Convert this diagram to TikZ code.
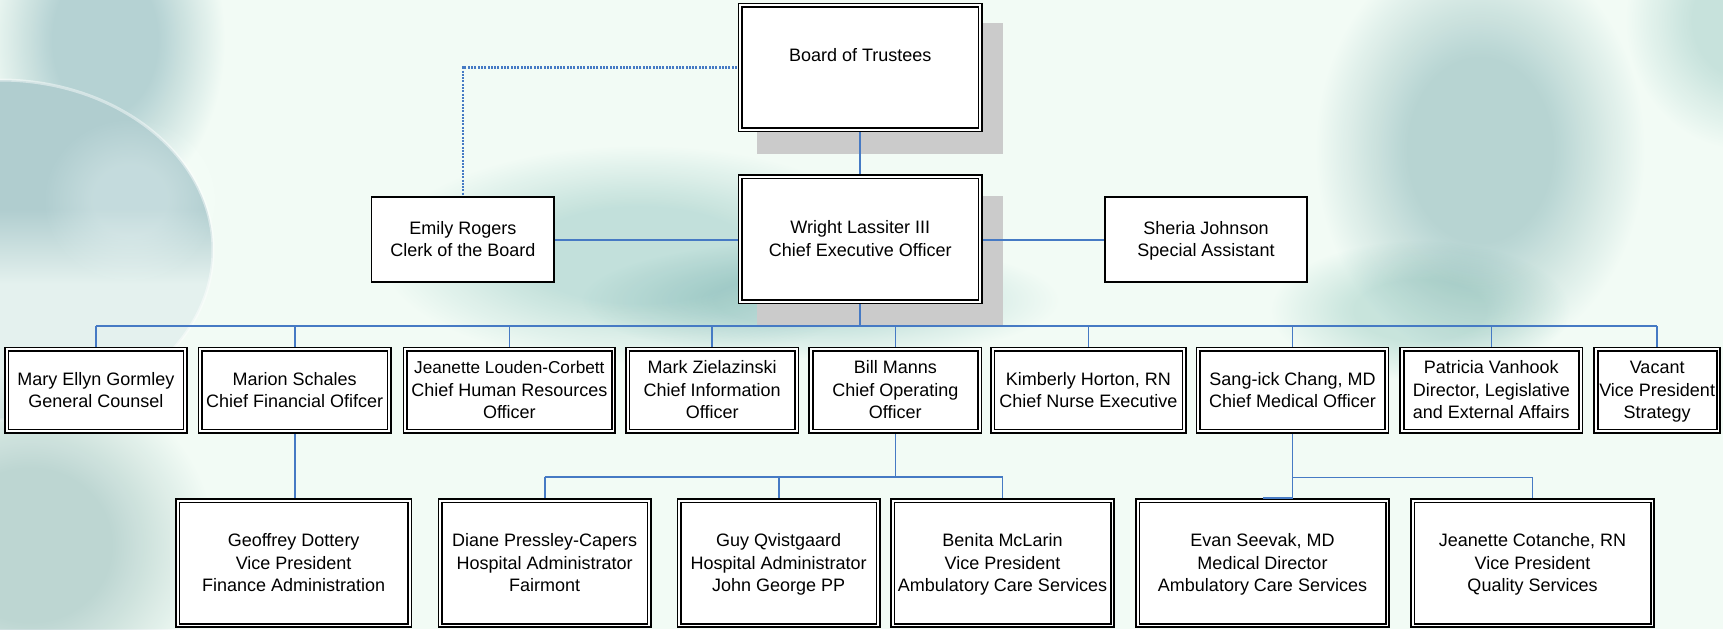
\documentclass[tikz,border=0pt]{standalone}
\usepackage{fontspec}
\setmainfont{Liberation Sans}
\pgfdeclarelayer{back}
\pgfdeclarelayer{links}
\pgfsetlayers{back,links,main}
\definecolor{bgc}{HTML}{F2FBF5}
\definecolor{connc}{RGB}{70,122,196}
\definecolor{shadowc}{HTML}{CBCBCB}
\definecolor{sphT}{HTML}{B0CDCF}
\definecolor{sphB}{HTML}{E4F1EE}
\colorlet{bin}{white}
\colorlet{bout}{white}
\pgfdeclareradialshading[bin,bout]{blob}{\pgfpoint{0bp}{0bp}}{color(0bp)=(bin); color(11bp)=(bin); color(25bp)=(bout); color(50bp)=(bout)}
\pgfdeclareverticalshading{sph}{100bp}{color(0bp)=(sphB); color(45bp)=(sphB); color(56bp)=(sphT); color(100bp)=(sphT)}
\newcommand\topS{\rule{0pt}{16pt}}
\newcommand\botS{\rule[-4pt]{0pt}{4pt}}
\begin{document}
\begin{tikzpicture}[x=1pt,y=-1pt,
  every node/.style={font=\fontsize{18pt}{22.5pt}\selectfont, text=black},
  dbox/.style={draw=black, double=white, double distance=1.8pt, line width=1.7pt, fill=white, inner sep=0pt, outer sep=0pt, align=center},
  sbox/.style={draw=black, line width=1.7pt, fill=white, inner sep=0pt, outer sep=0pt, align=center},
  trow/.style={dbox, minimum height=82.1pt},
  brow/.style={dbox, minimum height=124.8pt},
  link/.style={draw=connc, line width=1.6pt},
  dotlink/.style={draw=connc, line width=2.6pt, dash pattern=on 2pt off 1.3pt},
]
\useasboundingbox (0,0) rectangle (1723,629);

% ---------- boxes ----------
\node[dbox, minimum width=239.8pt, minimum height=124.4pt] (board) at (860.2,67.5) {};
\node[inner sep=0pt] (boardtxt) at (860.2,55) {Board of Trustees};
\node[dbox, minimum width=239.8pt, minimum height=125.1pt] (ceo) at (860.2,239.2) {\topS Wright Lassiter III\\Chief Executive Officer\botS};
\node[sbox, minimum width=182.6pt, minimum height=85pt] (emily) at (462.9,239.7) {\topS Emily Rogers\\Clerk of the Board\botS};
\node[sbox, minimum width=202.3pt, minimum height=85pt] (sheria) at (1206,239.7) {\topS Sheria Johnson\\Special Assistant\botS};

\node[trow, minimum width=178.5pt] (t1) at (95.85,390.3) {\topS Mary Ellyn Gormley\\General Counsel\botS};
\node[trow, minimum width=188.8pt] (t2) at (294.7,390.3) {\topS Marion Schales\\Chief Financial Ofifcer\botS};
\node[trow, minimum width=208.1pt] (t3) at (509.35,390.3) {\topS{\fontsize{17.2pt}{22.5pt}\selectfont Jeanette Louden-Corbett}\\Chief Human Resources\\Officer\botS};
\node[trow, minimum width=169.1pt] (t4) at (712.15,390.3) {\topS Mark Zielazinski\\Chief Information\\Officer\botS};
\node[trow, minimum width=168.8pt] (t5) at (895.3,390.3) {\topS Bill Manns\\Chief Operating\\Officer\botS};
\node[trow, minimum width=191.5pt] (t6) at (1088.35,390.3) {\topS Kimberly Horton, RN\\Chief Nurse Executive\botS};
\node[trow, minimum width=188.4pt] (t7) at (1292.5,390.3) {\topS Sang-ick Chang, MD\\Chief Medical Officer\botS};
\node[trow, minimum width=178.8pt] (t8) at (1491.3,390.3) {\topS Patricia Vanhook\\Director, Legislative\\and External Affairs\botS};
\node[trow, minimum width=122.5pt] (t9) at (1657.15,390.3) {\topS Vacant\\Vice President\\Strategy\botS};

\node[brow, minimum width=232.1pt] (b1) at (293.65,563) {\topS Geoffrey Dottery\\Vice President\\Finance Administration\botS};
\node[brow, minimum width=208.8pt] (b2) at (544.7,563) {\topS Diane Pressley-Capers\\Hospital Administrator\\Fairmont\botS};
\node[brow, minimum width=198.8pt] (b3) at (778.7,563) {\topS Guy Qvistgaard\\Hospital Administrator\\John George PP\botS};
\node[brow, minimum width=219.8pt] (b4) at (1002.5,563) {\topS Benita McLarin\\Vice President\\Ambulatory Care Services\botS};
\node[brow, minimum width=249.8pt] (b5) at (1262.5,563) {\topS Evan Seevak, MD\\Medical Director\\Ambulatory Care Services\botS};
\node[brow, minimum width=239.8pt] (b6) at (1532.5,563) {\topS Jeanette Cotanche, RN\\Vice President\\Quality Services\botS};

% ---------- connectors ----------
\coordinate (bus) at (0,326);
\coordinate (busB) at (0,476.7);
\coordinate (busC) at (0,477.3);
\coordinate (evtop) at ([yshift=2.6pt]b5.north);
\begin{pgfonlayer}{links}
\draw[link] (board.south) -- (ceo.north);
\draw[dotlink] (board.west) -| (emily.north);
\draw[link] (emily.east) -- (emily.east -| ceo.west);
\draw[link] (ceo.east |- sheria.west) -- (sheria.west);
\draw[link] (ceo.south) -- (ceo.south |- bus);
\draw[link] (t1.north |- bus) -- (t9.north |- bus);
\foreach \n in {t1,t2,t3,t4,t5,t6,t7,t8,t9}
  \draw[link] (\n.north |- bus) -- (\n.north);
\draw[link] (t2.south) -- (t2.south |- b1.north);
\draw[link] (t5.south) -- (t5.south |- busB);
\draw[link] (b2.north |- busB) -- (b4.north |- busB);
\foreach \n in {b2,b3,b4}
  \draw[link] (\n.north |- busB) -- (\n.north);
\draw[link] (t7.south) -- (t7.south |- evtop);
\draw[link] (t7.south |- busC) -| (b6.north);
\end{pgfonlayer}
\draw[link] (t7.south |- evtop) -- (evtop);

% ---------- background ----------
\begin{pgfonlayer}{back}
\fill[bgc] (0,0) rectangle (1723,629);
\begin{scope}[blend mode=multiply]
\colorlet{bout}{white}
\definecolor{bin}{HTML}{BFD6DC}
\shade[shading=blob] (105,40) ellipse (120pt and 170pt);
\definecolor{bin}{HTML}{CDE4E4}
\shade[shading=blob] (640,255) ellipse (260pt and 110pt);
\definecolor{bin}{HTML}{D3E7E8}
\shade[shading=blob] (820,300) ellipse (240pt and 60pt);
\definecolor{bin}{HTML}{C1D8DB}
\shade[shading=blob] (1480,150) ellipse (165pt and 210pt);
\definecolor{bin}{HTML}{D3E8E6}
\shade[shading=blob] (1420,310) ellipse (150pt and 70pt);
\definecolor{bin}{HTML}{D2E6E6}
\shade[shading=blob] (1745,20) ellipse (120pt and 130pt);
\end{scope}
\shade[shading=sph, draw=white, draw opacity=0.45, line width=3pt] (0,250) ellipse (213pt and 170pt);
\begin{scope}[blend mode=screen]
\colorlet{bout}{black}
\definecolor{bin}{HTML}{404646}
\shade[shading=blob] (130,200) ellipse (85pt and 80pt);
\end{scope}
\begin{scope}[blend mode=multiply]
\colorlet{bout}{white}
\definecolor{bin}{HTML}{C8DADB}
\shade[shading=blob] (30,545) ellipse (185pt and 175pt);
\end{scope}
\fill[shadowc] (757.3,23.3) rectangle (1003.3,154.3);
\fill[shadowc] (757.3,196) rectangle (1003.3,326);
\end{pgfonlayer}
\end{tikzpicture}
\end{document}
